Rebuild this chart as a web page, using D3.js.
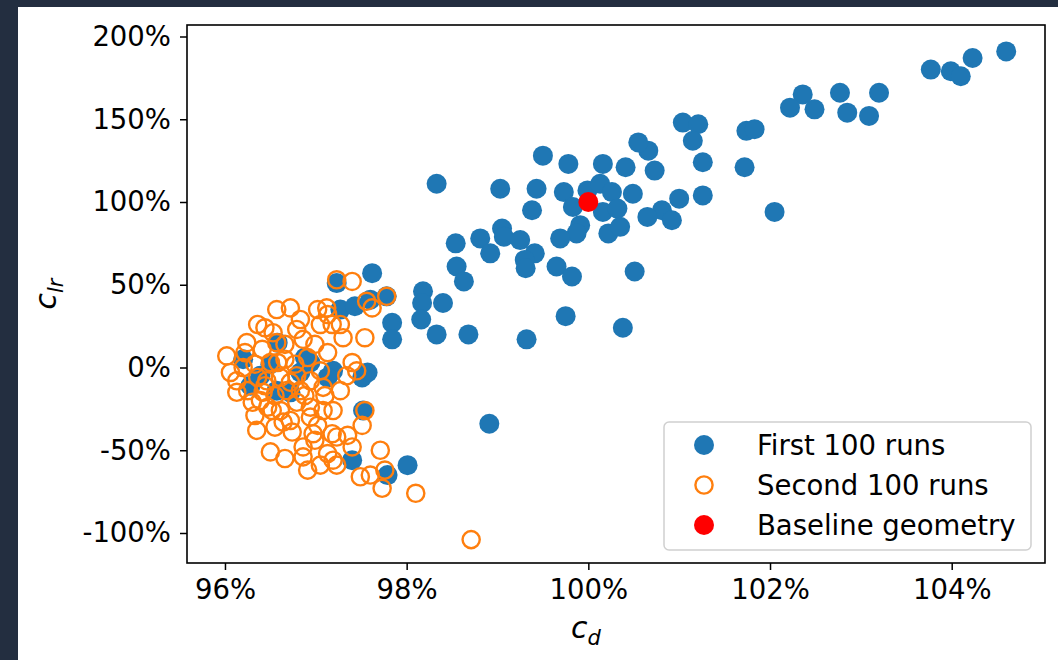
<!DOCTYPE html>
<html>
<head>
<meta charset="utf-8">
<script src="https://cdn.jsdelivr.net/npm/d3@7"></script>
<style>
  body { margin: 0; background: #232e40; }
  svg { display: block; }
  text { font-family: "DejaVu Sans", sans-serif; }
</style>
</head>
<body>
<svg id="chart" width="1058" height="660"></svg>
<script>
// first 100 runs (blue), values in %
const BLUE_CD = [104.60, 104.23, 103.99, 104.10, 103.77, 103.20, 102.77, 102.85, 103.09, 102.36,
  102.22, 102.49, 101.74, 101.83, 101.04, 101.21, 101.15, 101.26, 101.72, 100.73,
  100.66, 101.00, 101.26, 102.05, 100.81, 100.65, 100.92, 99.50, 99.78, 100.16,
  100.41, 100.55, 98.33, 99.03, 99.43, 99.73, 99.99, 100.13, 100.26, 100.49,
  99.83, 100.16, 100.32, 99.38, 99.91, 99.87, 100.22, 100.35, 99.69, 99.05,
  99.07, 99.25, 98.81, 98.92, 98.54, 99.41, 99.30, 99.31, 99.65, 99.82,
  100.51, 98.55, 98.63, 98.18, 98.17, 98.40, 98.16, 98.33, 98.68, 99.32,
  99.75, 100.38, 97.62, 97.23, 97.84, 97.84, 97.27, 97.43, 97.60, 97.78,
  97.19, 97.13, 97.57, 97.51, 97.52, 97.40, 97.79, 98.01, 96.20, 96.58,
  96.88, 98.91, 96.39, 96.57, 96.72, 96.83, 96.94, 96.50, 96.28];
const BLUE_CLR = [191, 187, 179, 176, 180, 166, 166, 154, 152, 165,
  157, 156, 143, 144, 148, 147, 137, 124, 121, 119,
  131, 102, 104, 94, 95, 91, 89, 128, 123, 123,
  121, 136, 111, 108, 108, 106, 107, 111, 106, 105,
  97, 94, 96, 95, 86, 81, 81, 85, 78, 84,
  79, 77, 78, 69, 75, 69, 65, 60, 61, 55,
  58, 61, 52, 46, 39, 39, 29, 20, 20, 17,
  31, 24, 57, 51, 27, 17, 35, 37, 41, 43,
  -2, -6, -3, -6, -26, -56, -65, -59, 5, 15,
  6, -34, -5, -14, -15, -3, 3, 2, -11];

// second 100 runs (orange, hollow)
const ORANGE_CD = [96.02, 96.24, 96.36, 96.44, 96.53, 96.57, 96.72, 96.79, 96.57, 96.86,
  97.02, 97.12, 97.05, 97.18, 97.23, 97.40, 97.30, 97.56, 97.62, 97.78,
  97.54, 97.13, 97.13, 96.91, 96.33, 96.50, 96.58, 96.66, 96.79, 96.94,
  97.05, 96.20, 96.13, 96.13, 96.36, 96.46, 97.40, 97.45, 96.30, 96.39,
  96.42, 96.47, 96.61, 96.79, 96.94, 96.94, 97.08, 97.08, 97.10, 97.19,
  96.35, 96.55, 96.64, 96.72, 96.50, 96.66, 96.97, 97.18, 96.99, 96.86,
  96.86, 96.91, 97.05, 97.13, 97.19, 97.23, 97.35, 97.51, 97.54, 97.71,
  97.23, 97.49, 97.60, 97.76, 97.73, 98.10, 98.71, 96.68, 96.55, 96.72,
  96.83, 96.61, 96.44, 96.88, 96.25, 96.77, 96.99, 96.83, 96.66, 96.41,
  96.22, 97.27, 97.34, 96.52, 96.74, 97.02, 97.40, 97.27, 96.06, 96.33];
const ORANGE_CLR = [7, 15, 26, 24, 21, 35, 36, 23, 15, 17,
  35, 36, 26, 26, 53, 52, 18, 40, 36, 43,
  18, 32, 9, 6, 2, 3, 3, 5, -5, -8,
  -2, 0, -8, -15, -6, -8, 3, -2, -21, -20,
  -15, -24, -26, -21, -24, -30, -26, -12, -17, -26,
  -38, -36, -33, -32, -51, -55, -40, -40, -44, -48,
  -54, -62, -59, -52, -56, -42, -41, -35, -26, -50,
  -59, -66, -65, -62, -73, -76, -104, -14, -17, -9,
  -14, -6, -11, -17, -14, 2, 14, 29, 14, 11,
  9, 26, -5, -26, -39, -35, -48, -14, -3, -29];

const BASELINE_CD = [100];
const BASELINE_CLR = [100];

const X_TICKS = [96, 98, 100, 102, 104];
const Y_TICKS = [-100, -50, 0, 50, 100, 150, 200];
const LEGEND_LABELS = ['First 100 runs', 'Second 100 runs', 'Baseline geometry'];

const PLOT = {left: 187, right: 1045, top: 25, bottom: 563};

const svg = d3.select('#chart');

// white figure area over the dark page
svg.append('rect').attr('x', 18).attr('y', 7).attr('width', 1040).attr('height', 653).attr('fill', '#fff');

const x = d3.scaleLinear().domain([95.582, 105.027]).range([PLOT.left, PLOT.right]);
const y = d3.scaleLinear().domain([-118.13, 206.95]).range([PLOT.bottom, PLOT.top]);

/* ************** AXES ************** */
const xAxis = svg.append('g')
  .attr('transform', `translate(0, ${PLOT.bottom})`)
  .call(d3.axisBottom(x).tickValues(X_TICKS).tickFormat(d => d + '%').tickSize(7).tickPadding(9));
const yAxis = svg.append('g')
  .attr('transform', `translate(${PLOT.left}, 0)`)
  .call(d3.axisLeft(y).tickValues(Y_TICKS).tickFormat(d => d + '%').tickSize(7).tickPadding(9));

[xAxis, yAxis].forEach(a => {
  a.select('.domain').remove();
  a.selectAll('line').attr('stroke', '#000').attr('stroke-width', 1.5);
  a.selectAll('text').attr('fill', '#000').style('font-size', '27.5px');
});

/* ************** POINTS ************** */
const blue = BLUE_CD.map((v, i) => ({cd: v, clr: BLUE_CLR[i]}));
const orange = ORANGE_CD.map((v, i) => ({cd: v, clr: ORANGE_CLR[i]}));
const base = BASELINE_CD.map((v, i) => ({cd: v, clr: BASELINE_CLR[i]}));

const pts = svg.append('g');
pts.selectAll('.blue').data(blue).enter().append('circle')
  .attr('class', 'blue')
  .attr('cx', d => x(d.cd)).attr('cy', d => y(d.clr)).attr('r', 10)
  .attr('fill', '#1f77b4');
pts.selectAll('.orange').data(orange).enter().append('circle')
  .attr('class', 'orange')
  .attr('cx', d => x(d.cd)).attr('cy', d => y(d.clr)).attr('r', 8.6)
  .attr('fill', 'none').attr('stroke', '#ff7f0e').attr('stroke-width', 2.4);
pts.selectAll('.base').data(base).enter().append('circle')
  .attr('class', 'base')
  .attr('cx', d => x(d.cd)).attr('cy', d => y(d.clr)).attr('r', 10)
  .attr('fill', '#ff0000');

// frame
svg.append('rect')
  .attr('x', PLOT.left).attr('y', PLOT.top)
  .attr('width', PLOT.right - PLOT.left).attr('height', PLOT.bottom - PLOT.top)
  .attr('fill', 'none').attr('stroke', '#000').attr('stroke-width', 1.6);

/* ************** LABELS ************** */
const xl = svg.append('text')
  .attr('x', 586).attr('y', 638)
  .attr('text-anchor', 'middle').style('font-size', '30px').style('font-style', 'italic');
xl.append('tspan').text('c');
xl.append('tspan').attr('dy', 7).style('font-size', '21px').text('d');

const yl = svg.append('text')
  .attr('transform', `translate(56, ${(PLOT.top + PLOT.bottom) / 2}) rotate(-90)`)
  .attr('text-anchor', 'middle').style('font-size', '30px').style('font-style', 'italic');
yl.append('tspan').text('c');
yl.append('tspan').attr('dy', 7).style('font-size', '21px').text('lr');

/* ************** LEGEND ************** */
const legend = svg.append('g');
legend.append('rect')
  .attr('x', 664).attr('y', 422).attr('width', 367).attr('height', 128)
  .attr('rx', 5).attr('fill', '#fff').attr('fill-opacity', 0.8)
  .attr('stroke', '#d0d0d0').attr('stroke-width', 1.5);
const rows = legend.selectAll('.row').data(LEGEND_LABELS).enter().append('g')
  .attr('transform', (d, i) => `translate(704, ${445 + i * 40})`);
rows.append('circle')
  .attr('r', (d, i) => i === 1 ? 8.6 : 10)
  .attr('fill', (d, i) => i === 0 ? '#1f77b4' : i === 1 ? 'none' : '#ff0000')
  .attr('stroke', (d, i) => i === 1 ? '#ff7f0e' : 'none')
  .attr('stroke-width', 2.4);
rows.append('text')
  .attr('x', 53).attr('dy', '0.35em')
  .style('font-size', '27.5px').text(d => d);
</script>
</body>
</html>
